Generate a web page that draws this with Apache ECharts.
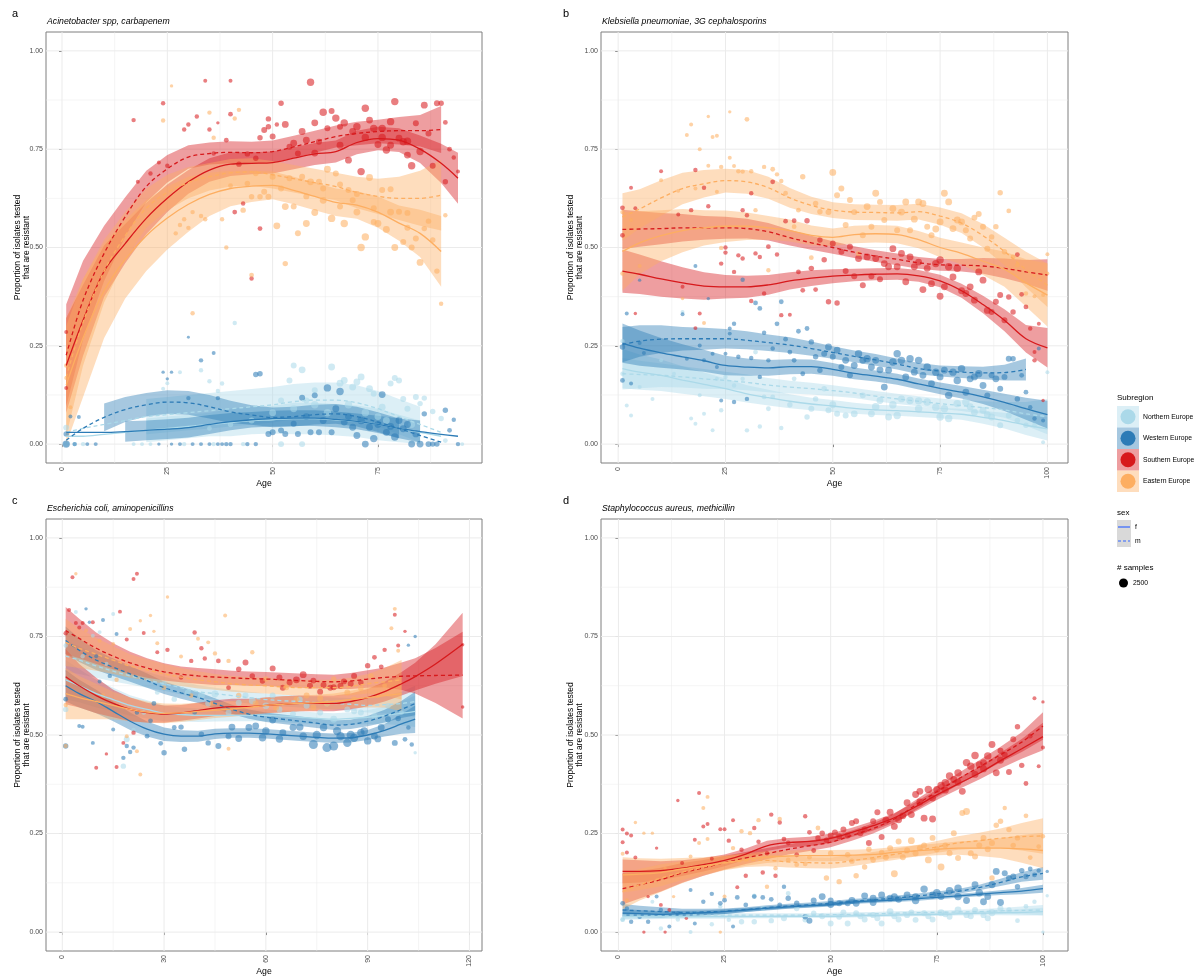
<!DOCTYPE html>
<html><head><meta charset="utf-8">
<script src="https://cdn.jsdelivr.net/npm/echarts@6/dist/echarts.min.js"></script>
<style>html,body{margin:0;padding:0;background:#fff}#c{width:1195px;height:979px}</style>
</head><body><div id="c"></div>
<script>
// ---------------- DATA ----------------
const subregions = ['Northern Europe','Western Europe','Southern Europe','Eastern Europe'];
const panelLetters = ['a','b','c','d'];
const panelTitles = ['Acinetobacter spp, carbapenem','Klebsiella pneumoniae, 3G cephalosporins','Escherichia coli, aminopenicillins','Staphylococcus aureus, methicillin'];
const yTicks = [0,0.25,0.5,0.75,1];
const xTicksA = [0,25,50,75];
const xTicksB = [0,25,50,75,100];
const xTicksC = [0,30,60,90,120];
const xTicksD = [0,25,50,75,100];
const legendSamples = [2500];

// smoothed fits (value at age), half-width of confidence band
const agesA = [1,5,10,15,20,25,30,35,40,45,50,55,60,65,70,75,80,85,90,94];
const a_N_f = [0.02,0.02,0.025,0.03,0.035,0.04,0.045,0.05,0.055,0.06,0.062,0.065,0.065,0.062,0.058,0.05,0.04,0.03,0.02,null];
const a_N_m = [0.03,0.04,0.05,0.06,0.07,0.075,0.08,0.085,0.09,0.095,0.10,0.108,0.112,0.112,0.105,0.09,0.07,0.05,0.03,null];
const a_W_f = [0.03,0.03,0.03,0.032,0.035,0.038,0.042,0.05,0.057,0.062,0.065,0.066,0.066,0.063,0.058,0.05,0.04,0.032,0.025,0.02];
const a_W_m = [0.01,0.04,0.068,0.088,0.1,0.107,0.105,0.095,0.082,0.074,0.068,0.07,0.075,0.077,0.07,0.056,0.04,0.022,0.005,null];
const a_S_f = [0.20,0.315,0.44,0.51,0.574,0.625,0.667,0.697,0.712,0.714,0.716,0.727,0.738,0.744,0.767,0.777,0.773,0.75,0.714,0.676];
const a_S_m = [0.226,0.366,0.485,0.578,0.655,0.70,0.73,0.739,0.742,0.741,0.744,0.756,0.769,0.782,0.79,0.795,0.797,0.797,0.80,null];
const a_E_f = [0.15,0.27,0.39,0.47,0.53,0.575,0.61,0.635,0.65,0.656,0.658,0.645,0.63,0.615,0.608,0.59,0.562,0.536,0.49,null];
const a_E_m = [0.17,0.31,0.44,0.53,0.60,0.64,0.665,0.68,0.69,0.692,0.685,0.675,0.665,0.655,0.64,0.63,0.625,0.625,0.633,null];
const a_N_f_hw = [0.03,0.03,0.03,0.032,0.03,0.03,0.03,0.03,0.035,0.035,0.035,0.04,0.04,0.04,0.04,0.04,0.035,0.03,0.03,null];
const a_N_m_hw = [0.04,0.045,0.055,0.065,0.045,0.045,0.045,0.045,0.045,0.045,0.045,0.045,0.045,0.045,0.045,0.045,0.045,0.045,0.035,null];
const a_W_f_hw = [0.04,0.04,0.032,0.026,0.025,0.025,0.025,0.024,0.022,0.02,0.02,0.02,0.02,0.02,0.02,0.022,0.025,0.028,0.035,0.04];
const a_W_m_hw = [0.04,0.045,0.035,0.032,0.03,0.03,0.03,0.03,0.028,0.025,0.025,0.025,0.025,0.025,0.025,0.025,0.025,0.025,0.03,null];
const a_S_f_hw = [0.12,0.09,0.065,0.05,0.04,0.035,0.03,0.03,0.03,0.028,0.028,0.028,0.028,0.028,0.03,0.03,0.03,0.035,0.05,0.065];
const a_S_m_hw = [0.13,0.1,0.07,0.05,0.04,0.035,0.03,0.028,0.028,0.028,0.028,0.028,0.028,0.028,0.03,0.03,0.035,0.04,0.06,null];
const a_E_f_hw = [0.15,0.15,0.12,0.10,0.09,0.08,0.07,0.055,0.045,0.04,0.035,0.035,0.035,0.035,0.035,0.04,0.045,0.06,0.09,null];
const a_E_m_hw = [0.15,0.11,0.08,0.06,0.05,0.045,0.04,0.035,0.035,0.035,0.035,0.035,0.035,0.035,0.04,0.045,0.055,0.07,0.09,null];

const agesB = [1,5,10,15,20,25,30,35,40,45,50,55,60,65,70,75,80,85,90,95,100];
const b_N_f = [0.192,0.183,0.175,0.163,0.152,0.141,0.128,0.118,0.109,0.102,0.097,0.091,0.087,0.085,0.082,0.079,0.076,0.068,0.06,0.048,0.039];
const b_N_m = [0.179,0.177,0.175,0.171,0.166,0.162,0.157,0.15,0.145,0.141,0.136,0.13,0.122,0.115,0.109,0.103,0.098,0.093,0.087,0.077,0.07];
const b_W_f = [0.257,0.244,0.232,0.222,0.212,0.20,0.196,0.194,0.197,0.197,0.19,0.18,0.173,0.165,0.153,0.142,0.132,0.12,0.106,0.09,0.075];
const b_W_m = [0.253,0.262,0.267,0.268,0.268,0.268,0.264,0.258,0.252,0.243,0.233,0.223,0.214,0.204,0.192,0.186,0.183,0.181,0.182,0.19,null];
const b_S_f = [0.44,0.432,0.42,0.41,0.402,0.40,0.40,0.405,0.415,0.422,0.427,0.43,0.432,0.433,0.428,0.415,0.39,0.355,0.315,0.268,0.245];
const b_S_m = [0.546,0.547,0.548,0.55,0.55,0.55,0.548,0.54,0.525,0.512,0.50,0.488,0.478,0.47,0.461,0.456,0.455,0.453,0.447,0.438,0.43];
const b_E_f = [0.49,0.512,0.53,0.543,0.55,0.554,0.554,0.55,0.543,0.531,0.526,0.533,0.535,0.533,0.52,0.50,0.485,0.465,0.445,0.41,0.379];
const b_E_m = [0.578,0.598,0.626,0.65,0.662,0.67,0.667,0.652,0.626,0.607,0.595,0.59,0.589,0.588,0.591,0.58,0.562,0.53,0.49,0.444,0.404];
const b_N_f_hw = [0.05,0.045,0.04,0.035,0.03,0.026,0.022,0.02,0.018,0.016,0.015,0.014,0.013,0.013,0.013,0.013,0.014,0.016,0.02,0.025,0.03];
const b_N_m_hw = [0.04,0.035,0.03,0.027,0.025,0.022,0.02,0.018,0.016,0.015,0.014,0.013,0.013,0.013,0.013,0.013,0.014,0.016,0.02,0.03,0.045];
const b_W_f_hw = [0.05,0.045,0.038,0.032,0.028,0.025,0.022,0.02,0.019,0.018,0.016,0.015,0.014,0.014,0.014,0.015,0.016,0.018,0.022,0.028,0.035];
const b_W_m_hw = [0.045,0.04,0.035,0.03,0.028,0.025,0.023,0.021,0.02,0.018,0.016,0.015,0.015,0.014,0.014,0.014,0.015,0.016,0.02,0.028,null];
const b_S_f_hw = [0.055,0.05,0.045,0.04,0.035,0.03,0.028,0.025,0.022,0.02,0.018,0.016,0.015,0.015,0.015,0.016,0.018,0.022,0.028,0.035,0.05];
const b_S_m_hw = [0.05,0.045,0.04,0.035,0.03,0.028,0.025,0.022,0.02,0.018,0.016,0.015,0.015,0.015,0.015,0.015,0.016,0.02,0.025,0.03,0.04];
const b_E_f_hw = [0.1,0.08,0.065,0.055,0.045,0.04,0.035,0.03,0.028,0.025,0.022,0.022,0.022,0.022,0.022,0.025,0.028,0.035,0.045,0.06,0.08];
const b_E_m_hw = [0.06,0.05,0.045,0.04,0.035,0.03,0.03,0.028,0.025,0.022,0.02,0.02,0.02,0.02,0.02,0.022,0.025,0.03,0.035,0.045,0.055];

const agesC = [1,5,10,15,20,25,30,35,40,45,50,55,60,65,70,75,80,85,90,95,100,104,110,118];
const c_N_f = [0.64,0.625,0.605,0.59,0.575,0.565,0.555,0.552,0.55,0.55,0.55,0.55,0.55,0.548,0.545,0.542,0.54,0.542,0.545,0.55,0.555,0.56,null,null];
const c_N_m = [0.70,0.69,0.675,0.662,0.65,0.64,0.63,0.62,0.61,0.605,0.60,0.595,0.59,0.587,0.585,0.582,0.58,0.578,0.575,0.577,0.58,0.585,null,null];
const c_W_f = [0.625,0.605,0.585,0.56,0.535,0.515,0.502,0.497,0.497,0.503,0.505,0.505,0.503,0.50,0.497,0.494,0.492,0.493,0.50,0.512,0.528,0.54,null,null];
const c_W_m = [0.74,0.715,0.69,0.672,0.655,0.638,0.62,0.607,0.595,0.58,0.565,0.553,0.545,0.54,0.535,0.53,0.525,0.527,0.535,0.548,0.565,0.58,null,null];
const c_S_f = [0.648,0.625,0.60,0.58,0.565,0.557,0.553,0.556,0.562,0.568,0.572,0.572,0.575,0.578,0.58,0.58,0.58,0.585,0.595,0.61,0.63,0.648,0.68,0.73];
const c_S_m = [0.765,0.745,0.72,0.70,0.683,0.67,0.66,0.654,0.65,0.647,0.645,0.643,0.642,0.64,0.638,0.636,0.635,0.637,0.642,0.646,0.649,0.65,0.651,0.652];
const c_E_f = [0.605,0.595,0.585,0.575,0.565,0.558,0.555,0.556,0.56,0.563,0.566,0.57,0.575,0.578,0.58,0.582,0.585,0.59,0.595,0.60,0.605,null,null,null];
const c_E_m = [0.735,0.72,0.705,0.69,0.675,0.665,0.655,0.647,0.64,0.635,0.63,0.627,0.625,0.622,0.62,0.62,0.62,0.623,0.63,0.635,0.64,null,null,null];
const c_N_f_hw = [0.05,0.042,0.035,0.03,0.026,0.023,0.02,0.018,0.017,0.016,0.015,0.015,0.015,0.015,0.015,0.015,0.015,0.016,0.018,0.022,0.03,0.04,null,null];
const c_N_m_hw = [0.04,0.035,0.03,0.026,0.022,0.02,0.018,0.017,0.016,0.015,0.015,0.015,0.015,0.015,0.015,0.015,0.015,0.016,0.018,0.022,0.03,0.04,null,null];
const c_W_f_hw = [0.04,0.035,0.03,0.025,0.022,0.019,0.017,0.015,0.014,0.013,0.012,0.012,0.012,0.012,0.012,0.012,0.012,0.012,0.013,0.016,0.025,0.035,null,null];
const c_W_m_hw = [0.035,0.03,0.025,0.022,0.02,0.018,0.016,0.015,0.014,0.013,0.012,0.012,0.012,0.012,0.012,0.012,0.012,0.012,0.013,0.016,0.022,0.03,null,null];
const c_S_f_hw = [0.07,0.055,0.045,0.035,0.03,0.025,0.022,0.02,0.02,0.02,0.02,0.02,0.02,0.02,0.02,0.02,0.02,0.02,0.022,0.025,0.03,0.035,0.05,0.08];
const c_S_m_hw = [0.06,0.05,0.04,0.033,0.028,0.025,0.022,0.02,0.02,0.02,0.018,0.018,0.018,0.018,0.018,0.018,0.018,0.02,0.022,0.025,0.035,0.045,0.07,0.11];
const c_E_f_hw = [0.065,0.055,0.045,0.035,0.03,0.027,0.025,0.023,0.022,0.02,0.02,0.02,0.02,0.02,0.02,0.02,0.02,0.022,0.025,0.03,0.045,null,null,null];
const c_E_m_hw = [0.06,0.05,0.042,0.035,0.03,0.027,0.025,0.023,0.022,0.02,0.02,0.02,0.02,0.02,0.02,0.02,0.02,0.022,0.025,0.035,0.05,null,null,null];

const agesD = [1,5,10,15,20,25,30,35,40,45,50,55,60,65,70,75,80,85,90,95,100];
const d_N_f = [0.039,0.039,0.039,0.039,0.039,0.039,0.039,0.039,0.04,0.04,0.04,0.041,0.042,0.043,0.044,0.045,0.046,0.048,0.049,0.05,0.052];
const d_N_m = [0.043,0.043,0.043,0.043,0.043,0.043,0.043,0.043,0.043,0.043,0.044,0.045,0.046,0.048,0.049,0.05,0.051,0.052,0.054,0.055,0.056];
const d_W_f = [0.048,0.047,0.045,0.047,0.049,0.052,0.056,0.06,0.064,0.067,0.07,0.076,0.079,0.081,0.084,0.088,0.092,0.096,0.1,0.104,0.11];
const d_W_m = [0.056,0.054,0.052,0.05,0.051,0.053,0.057,0.062,0.066,0.069,0.073,0.078,0.082,0.086,0.091,0.097,0.103,0.113,0.126,0.14,0.149];
const d_S_f = [0.154,0.154,0.156,0.162,0.171,0.182,0.198,0.219,0.227,0.23,0.238,0.253,0.27,0.29,0.318,0.348,0.376,0.403,0.435,0.465,0.496];
const d_S_m = [0.11,0.12,0.133,0.15,0.163,0.176,0.188,0.199,0.21,0.219,0.228,0.245,0.263,0.287,0.322,0.356,0.388,0.419,0.45,0.482,0.523];
const d_E_f = [0.145,0.147,0.151,0.16,0.168,0.176,0.184,0.19,0.193,0.194,0.194,0.195,0.197,0.202,0.206,0.21,0.213,0.213,0.213,0.211,0.207];
const d_E_m = [0.103,0.12,0.137,0.152,0.165,0.175,0.181,0.182,0.178,0.176,0.175,0.181,0.189,0.197,0.206,0.216,0.226,0.232,0.238,0.242,0.244];
const d_N_f_hw = [0.008,0.007,0.006,0.005,0.005,0.005,0.004,0.004,0.004,0.004,0.004,0.004,0.004,0.004,0.004,0.004,0.004,0.005,0.006,0.008,0.01];
const d_N_m_hw = [0.01,0.009,0.008,0.007,0.006,0.006,0.005,0.005,0.005,0.005,0.005,0.005,0.005,0.005,0.005,0.005,0.005,0.006,0.007,0.01,0.013];
const d_W_f_hw = [0.01,0.009,0.008,0.007,0.006,0.006,0.005,0.005,0.005,0.005,0.005,0.005,0.005,0.005,0.005,0.005,0.005,0.005,0.006,0.008,0.01];
const d_W_m_hw = [0.015,0.013,0.011,0.009,0.008,0.007,0.006,0.006,0.006,0.006,0.006,0.006,0.006,0.006,0.006,0.006,0.006,0.007,0.009,0.012,0.016];
const d_S_f_hw = [0.03,0.028,0.024,0.02,0.017,0.015,0.014,0.013,0.012,0.012,0.012,0.012,0.012,0.012,0.012,0.013,0.014,0.016,0.02,0.025,0.035];
const d_S_m_hw = [0.04,0.035,0.03,0.025,0.02,0.017,0.015,0.014,0.013,0.013,0.013,0.013,0.013,0.013,0.013,0.014,0.015,0.017,0.02,0.025,0.035];
const d_E_f_hw = [0.045,0.04,0.035,0.028,0.022,0.018,0.016,0.015,0.014,0.014,0.014,0.014,0.014,0.014,0.014,0.015,0.017,0.02,0.025,0.035,0.045];
const d_E_m_hw = [0.045,0.04,0.035,0.028,0.022,0.018,0.016,0.015,0.014,0.014,0.014,0.014,0.014,0.014,0.014,0.015,0.017,0.02,0.025,0.035,0.045];

// observed points: [age, proportion resistant, # samples]
const pA_N = [[1,0.042,800],[1,0,800],[3,0,300],[5,0,300],[17,0,200],[19,0,200],[21,0,200],[24,0.141,200],[25,0.155,200],[28,0.183,200],[29,0,300],[33,0.188,300],[35,0.16,300],[36,0,300],[37,0.135,300],[38,0.154,300],[41,0.308,300],[43,0,300],[52,0.111,800],[52,0,800],[54,0.162,800],[55,0.20,800],[57,0.189,1200],[57,0,800],[58,0.111,800],[60,0.137,800],[64,0.196,1200],[66,0.155,1200],[67,0.162,1200],[69,0.145,1200],[70,0.158,1200],[71,0.171,1200],[73,0.141,1200],[74,0.128,800],[76,0.094,1200],[78,0.154,800],[79,0.168,800],[80,0.162,800],[81,0.115,800],[82,0.09,800],[84,0.12,800],[85,0.103,600],[86,0.117,600],[88,0.083,600],[90,0.065,600],[91,0.009,400],[95,0,200],[50,0.08,1200],[55,0.09,1200],[60,0.1,1500],[63,0.08,1500],[68,0.1,1500],[72,0.08,1500],[75,0.07,1200],[77,0.06,1200],[83,0.05,1200],[45,0.06,800],[40,0.05,600],[35,0.04,400]];
const pA_W = [[1,0,1500],[1,0.026,600],[2,0.07,200],[4,0.069,200],[3,0,300],[6,0,200],[8,0,200],[24,0.183,100],[25,0.166,100],[26,0.183,100],[30,0.272,50],[30,0.117,300],[33,0.213,300],[36,0.232,200],[37,0.117,300],[46,0.177,600],[47,0.179,600],[49,0.026,800],[50,0.03,800],[52,0.035,800],[53,0.026,800],[55,0.052,800],[56,0.026,800],[57,0.118,800],[59,0.03,800],[60,0.124,800],[61,0.03,800],[63,0.143,1500],[64,0.03,800],[66,0.134,1500],[67,0.056,1200],[69,0.043,1200],[70,0.022,1200],[72,0,1200],[73,0.043,1200],[74,0.014,1500],[76,0.126,1200],[77,0.03,1200],[79,0.018,1500],[81,0.039,1200],[83,0,1200],[84,0.026,1200],[85,0,1200],[86,0.077,600],[87,0,800],[88,0,600],[89,0,600],[91,0.086,600],[92,0.035,400],[93,0.062,300],[94,0,300],[23,0,100],[26,0,100],[28,0,200],[31,0,200],[33,0,200],[35,0,200],[37,0,200],[38,0,200],[39,0,300],[40,0,300],[44,0,300],[46,0,300],[58,0.07,1200],[62,0.06,1200],[65,0.09,1200],[68,0.07,1200],[71,0.06,1500],[75,0.05,1200],[78,0.045,1200],[80,0.06,1200],[82,0.05,1200]];
const pA_S = [[1,0.143,200],[1,0.285,200],[17,0.824,300],[18,0.667,200],[21,0.688,300],[23,0.716,200],[24,0.867,300],[25,0.708,300],[29,0.80,300],[30,0.813,300],[32,0.833,300],[34,0.924,200],[35,0.80,300],[36,0.739,300],[37,0.817,100],[39,0.773,400],[40,0.924,200],[40,0.839,400],[41,0.59,400],[42,0.712,600],[43,0.612,300],[44,0.738,600],[45,0.421,300],[46,0.727,600],[47,0.548,400],[47,0.779,600],[48,0.799,800],[49,0.827,600],[49,0.807,600],[50,0.782,800],[51,0.813,300],[52,0.867,600],[53,0.813,1200],[54,0.756,800],[55,0.765,1200],[56,0.739,800],[57,0.795,1200],[58,0.773,1200],[59,0.92,1500],[60,0.817,1200],[61,0.769,800],[62,0.844,1500],[63,0.803,800],[64,0.847,800],[65,0.829,1500],[66,0.807,800],[67,0.817,1500],[68,0.722,1200],[69,0.795,1200],[70,0.807,1500],[71,0.693,1500],[72,0.854,1500],[73,0.824,1200],[74,0.803,1500],[75,0.762,1200],[76,0.803,1500],[77,0.748,1500],[78,0.82,1500],[79,0.871,1500],[80,0.778,1200],[81,0.769,1500],[82,0.735,1200],[83,0.708,1500],[84,0.816,800],[85,0.744,1500],[86,0.862,1200],[87,0.79,800],[88,0.708,800],[89,0.867,800],[90,0.867,600],[91,0.667,600],[91,0.818,400],[92,0.75,400],[93,0.729,300],[94,0.693,200],[60,0.74,1200],[66,0.76,1200],[72,0.78,1500],[76,0.78,1500],[78,0.76,1200],[82,0.77,1500]];
const pA_E = [[1,0.20,300],[1,0.168,200],[2,0.094,200],[24,0.823,300],[26,0.911,100],[27,0.536,300],[28,0.557,300],[29,0.572,300],[30,0.55,300],[31,0.333,300],[31,0.59,300],[33,0.58,300],[34,0.572,300],[35,0.843,300],[36,0.779,300],[38,0.572,300],[39,0.50,300],[40,0.657,400],[41,0.828,300],[42,0.85,300],[43,0.595,600],[44,0.663,600],[45,0.43,400],[45,0.629,600],[46,0.688,600],[47,0.629,600],[48,0.642,800],[49,0.629,800],[50,0.68,800],[51,0.555,1200],[53,0.604,1200],[53,0.459,600],[54,0.676,800],[55,0.604,800],[56,0.536,800],[57,0.68,800],[58,0.561,1200],[59,0.667,1200],[60,0.589,1200],[61,0.667,800],[62,0.65,800],[63,0.699,1200],[64,0.574,1500],[65,0.688,800],[66,0.604,800],[67,0.561,1500],[68,0.646,800],[69,0.62,800],[70,0.636,800],[71,0.50,1500],[72,0.527,1500],[73,0.678,1200],[74,0.565,800],[75,0.561,1200],[76,0.646,800],[77,0.546,1200],[78,0.648,800],[79,0.50,1200],[80,0.591,800],[81,0.514,800],[82,0.588,800],[83,0.50,800],[84,0.523,800],[85,0.462,1200],[86,0.548,600],[87,0.567,600],[88,0.519,600],[89,0.44,600],[90,0.357,300],[91,0.582,300],[52,0.65,800],[58,0.63,800],[62,0.62,1200],[66,0.66,800],[70,0.59,1200],[74,0.60,800],[78,0.59,1200],[82,0.55,800]];

const pB_N = [[1,0.262,300],[1,0.179,300],[2,0.098,200],[3,0.073,200],[5,0.145,200],[8,0.115,200],[10,0.213,200],[13,0.179,200],[15,0.336,200],[17,0.065,200],[18,0.052,200],[19,0.124,200],[20,0.077,200],[22,0.035,200],[23,0.166,200],[24,0.086,300],[25,0.171,300],[27,0.149,300],[29,0.166,300],[30,0.035,300],[32,0.234,400],[33,0.045,300],[34,0.12,400],[35,0.09,400],[38,0.041,300],[41,0.166,400],[44,0.069,600],[46,0.115,600],[48,0.141,600],[49,0.086,800],[51,0.077,800],[53,0.073,800],[55,0.077,1200],[57,0.124,800],[59,0.077,1200],[61,0.111,1200],[63,0.069,1200],[65,0.073,1500],[66,0.115,1200],[68,0.111,1500],[70,0.09,1500],[72,0.107,1500],[74,0.094,1500],[75,0.069,1500],[77,0.065,1500],[79,0.103,1500],[81,0.107,1500],[83,0.081,1200],[85,0.086,1200],[87,0.069,1200],[89,0.048,800],[91,0.073,800],[93,0.06,600],[95,0.048,600],[97,0.048,400],[99,0.005,200],[100,0.183,200],[60,0.095,1500],[64,0.1,1500],[70,0.11,1500],[76,0.09,1500],[82,0.095,1200],[86,0.075,1200],[50,0.1,1200],[45,0.09,800],[40,0.1,600],[36,0.12,400]];
const pB_W = [[1,0.247,600],[1,0.162,400],[2,0.332,200],[3,0.154,200],[5,0.417,100],[5,0.257,200],[6,0.232,200],[15,0.33,200],[16,0.217,200],[18,0.453,200],[19,0.251,200],[20,0.213,200],[21,0.37,100],[22,0.23,200],[23,0.196,200],[24,0.111,200],[25,0.23,200],[26,0.281,200],[26,0.294,200],[27,0.306,300],[27,0.107,300],[28,0.222,300],[29,0.418,300],[30,0.115,300],[31,0.219,300],[32,0.359,400],[33,0.345,400],[33,0.171,300],[34,0.283,300],[35,0.213,300],[36,0.243,300],[37,0.306,400],[38,0.362,400],[39,0.267,400],[40,0.234,400],[41,0.213,400],[42,0.287,400],[43,0.179,400],[44,0.294,400],[45,0.26,600],[46,0.222,600],[47,0.188,600],[48,0.23,800],[49,0.247,1200],[50,0.222,800],[51,0.239,1200],[52,0.196,800],[53,0.213,1200],[54,0.175,800],[55,0.20,1200],[56,0.23,1500],[57,0.213,1200],[58,0.217,1500],[59,0.196,1200],[60,0.213,1200],[61,0.189,1200],[62,0.145,1200],[63,0.188,1200],[64,0.209,1500],[65,0.23,1500],[66,0.213,1500],[67,0.171,1200],[68,0.217,1500],[69,0.183,1200],[70,0.213,1500],[71,0.175,1200],[72,0.196,1500],[73,0.154,1200],[74,0.183,1500],[75,0.171,1200],[76,0.188,1200],[77,0.124,1500],[78,0.183,1500],[79,0.162,1500],[80,0.192,1500],[81,0.132,1200],[82,0.166,1200],[83,0.171,1200],[84,0.179,1500],[85,0.149,1200],[86,0.124,800],[87,0.175,800],[88,0.166,1200],[89,0.141,800],[90,0.171,800],[91,0.217,800],[92,0.217,600],[93,0.115,600],[94,0.175,400],[95,0.132,400],[96,0.094,300],[97,0.065,300],[98,0.243,200],[99,0.06,200]];
const pB_S = [[1,0.601,400],[1,0.531,400],[3,0.652,200],[4,0.60,200],[4,0.332,100],[10,0.694,200],[14,0.584,200],[15,0.40,200],[17,0.595,300],[18,0.697,300],[18,0.295,200],[19,0.332,200],[20,0.652,300],[21,0.605,300],[24,0.459,300],[25,0.50,300],[25,0.487,300],[27,0.438,300],[28,0.48,300],[29,0.595,300],[29,0.472,300],[30,0.582,300],[31,0.638,300],[31,0.364,300],[32,0.485,300],[33,0.476,300],[34,0.383,300],[35,0.502,400],[36,0.667,400],[37,0.482,300],[38,0.328,300],[39,0.567,400],[40,0.329,200],[41,0.568,400],[42,0.438,400],[43,0.391,400],[44,0.568,600],[45,0.447,600],[46,0.393,400],[47,0.519,600],[48,0.469,600],[49,0.362,600],[50,0.51,800],[51,0.359,600],[52,0.489,800],[53,0.44,800],[54,0.502,800],[55,0.427,800],[56,0.472,1200],[57,0.404,800],[58,0.476,1200],[59,0.427,800],[60,0.472,1200],[61,0.419,800],[62,0.459,1200],[63,0.451,1200],[64,0.497,1200],[65,0.451,1200],[66,0.485,1200],[67,0.413,1200],[68,0.476,1200],[69,0.451,1200],[70,0.463,1200],[71,0.393,1200],[72,0.447,1200],[73,0.408,1200],[74,0.459,1500],[75,0.468,1500],[75,0.376,1200],[76,0.40,1200],[77,0.451,1500],[78,0.425,1200],[79,0.447,1500],[80,0.39,1200],[81,0.383,1200],[82,0.40,1200],[83,0.366,1200],[84,0.438,1200],[85,0.417,1200],[86,0.34,1200],[87,0.336,800],[88,0.362,800],[89,0.379,800],[90,0.315,800],[91,0.374,600],[92,0.336,600],[93,0.482,400],[94,0.381,400],[95,0.349,400],[96,0.294,300],[97,0.213,300],[97,0.234,200],[98,0.306,200],[99,0.111,100]];
const pB_E = [[1,0.59,300],[1,0.434,300],[3,0.57,200],[5,0.453,200],[10,0.671,200],[14,0.644,200],[15,0.37,100],[16,0.786,200],[17,0.813,200],[18,0.65,200],[19,0.75,200],[20,0.308,200],[21,0.833,100],[21,0.708,200],[22,0.781,200],[23,0.784,200],[23,0.642,200],[24,0.705,300],[24,0.499,300],[26,0.845,100],[26,0.728,200],[27,0.707,200],[28,0.694,300],[29,0.693,300],[30,0.826,400],[31,0.694,300],[32,0.595,300],[34,0.705,300],[35,0.442,300],[36,0.699,400],[37,0.686,300],[38,0.669,300],[39,0.638,400],[41,0.553,400],[42,0.595,400],[43,0.68,600],[45,0.474,400],[46,0.612,600],[47,0.591,600],[49,0.59,800],[50,0.691,1200],[51,0.633,800],[52,0.65,800],[53,0.557,800],[54,0.621,800],[55,0.59,800],[56,0.485,600],[57,0.531,800],[58,0.604,1200],[59,0.553,800],[60,0.638,1200],[61,0.616,800],[62,0.57,800],[64,0.599,1200],[65,0.544,800],[66,0.59,1200],[67,0.616,1200],[68,0.544,800],[69,0.572,1200],[70,0.616,1200],[71,0.612,1200],[72,0.553,800],[73,0.531,800],[74,0.547,1200],[75,0.565,1200],[76,0.638,1200],[77,0.616,1200],[78,0.548,1200],[79,0.57,1200],[80,0.565,1200],[81,0.544,800],[82,0.523,800],[83,0.576,800],[84,0.585,800],[85,0.553,800],[86,0.497,800],[87,0.527,600],[88,0.553,600],[89,0.639,600],[90,0.489,600],[91,0.593,400],[92,0.476,400],[93,0.455,400],[95,0.383,300],[97,0.376,200],[99,0.379,200],[100,0.434,200],[100,0.483,200]];

const pC_N = [[1,0.565,600],[1,0.727,300],[4,0.812,200],[9,0.752,200],[11,0.761,200],[15,0.807,200],[18,0.421,600],[19,0.489,800],[21,0.513,300],[24,0.557,400],[28,0.608,400],[33,0.591,600],[37,0.608,800],[41,0.60,1200],[45,0.604,1200],[49,0.557,800],[52,0.582,800],[56,0.587,1200],[60,0.574,1200],[64,0.565,800],[68,0.553,800],[72,0.574,800],[76,0.557,800],[80,0.54,1200],[84,0.565,800],[88,0.557,800],[92,0.548,800],[96,0.574,600],[100,0.557,400],[104,0.455,100],[30,0.63,600],[43,0.58,800],[54,0.6,800],[62,0.6,800],[70,0.59,800],[78,0.58,800],[86,0.56,800],[6,0.7,300],[13,0.68,300]];
const pC_W = [[1,0.472,600],[1,0.591,400],[5,0.523,200],[6,0.521,200],[7,0.82,100],[8,0.786,100],[9,0.48,200],[11,0.636,200],[12,0.792,200],[15,0.514,200],[16,0.756,200],[18,0.442,300],[19,0.472,300],[20,0.457,300],[21,0.468,300],[22,0.557,300],[25,0.497,400],[26,0.536,400],[29,0.479,400],[30,0.455,600],[33,0.519,400],[36,0.464,600],[39,0.557,400],[41,0.502,600],[43,0.48,600],[46,0.472,800],[49,0.497,800],[52,0.491,1200],[55,0.519,1200],[57,0.523,1200],[59,0.493,1500],[62,0.538,1200],[65,0.506,1200],[68,0.519,1200],[71,0.497,1500],[74,0.476,2500],[77,0.519,1500],[78,0.468,2500],[80,0.472,2500],[82,0.497,2000],[84,0.48,2000],[86,0.493,2000],[88,0.506,1500],[90,0.485,1500],[92,0.497,1200],[94,0.519,1200],[96,0.54,800],[98,0.48,800],[99,0.542,600],[101,0.489,400],[102,0.519,300],[102,0.728,100],[103,0.476,300],[104,0.75,100],[50,0.52,1200],[60,0.51,1500],[64,0.49,1500],[70,0.52,1500],[75,0.5,2000],[81,0.51,2000],[85,0.5,2000],[89,0.51,1500],[93,0.49,1200],[35,0.52,600],[27,0.58,400],[14,0.65,300],[10,0.7,200]];
const pC_S = [[1,0.758,300],[2,0.817,200],[3,0.90,200],[4,0.784,200],[5,0.773,200],[6,0.784,200],[9,0.786,200],[10,0.417,200],[13,0.452,100],[16,0.419,200],[17,0.813,200],[18,0.48,200],[19,0.742,200],[21,0.896,200],[22,0.909,200],[21,0.506,300],[24,0.759,200],[28,0.71,200],[31,0.716,300],[35,0.646,300],[38,0.688,300],[39,0.76,300],[41,0.72,300],[42,0.694,300],[46,0.688,400],[49,0.62,400],[52,0.667,600],[54,0.684,800],[56,0.65,600],[59,0.637,600],[62,0.669,800],[64,0.646,800],[67,0.633,800],[71,0.653,1200],[74,0.638,800],[77,0.627,800],[80,0.621,800],[83,0.636,800],[86,0.65,800],[88,0.633,600],[90,0.676,600],[92,0.697,400],[94,0.673,400],[95,0.716,300],[98,0.805,200],[99,0.727,200],[101,0.763,100],[118,0.729,100],[118,0.571,100],[65,0.62,800],[69,0.64,1200],[73,0.625,800],[76,0.61,800],[79,0.62,800],[82,0.625,800],[85,0.63,800]];
const pC_E = [[1,0.472,300],[1,0.576,300],[4,0.909,100],[7,0.765,200],[11,0.739,200],[15,0.731,200],[19,0.497,200],[20,0.769,200],[22,0.459,200],[23,0.40,200],[23,0.79,100],[26,0.803,100],[27,0.763,100],[28,0.733,200],[31,0.85,100],[35,0.699,200],[40,0.744,200],[43,0.735,200],[45,0.707,300],[48,0.803,200],[49,0.688,300],[49,0.465,200],[56,0.71,300],[60,0.642,600],[66,0.621,800],[72,0.60,800],[76,0.593,800],[80,0.642,600],[84,0.608,800],[88,0.618,600],[91,0.65,600],[95,0.625,400],[97,0.771,200],[98,0.82,200],[99,0.714,200],[52,0.6,600],[57,0.58,800],[63,0.57,800],[69,0.59,800],[74,0.57,800],[78,0.58,800],[86,0.59,800],[93,0.6,600],[30,0.62,400],[38,0.6,400],[44,0.58,400],[12,0.6,300],[16,0.64,300]];

const pD_N = [[1,0.032,400],[1,0.031,300],[5,0.039,300],[8,0.077,200],[10,0.009,300],[14,0.032,300],[17,0,200],[18,0.048,300],[22,0.02,300],[24,0.065,300],[26,0.031,300],[29,0.026,600],[32,0.092,300],[32,0.026,600],[34,0.06,400],[36,0.029,600],[39,0.035,800],[40,0.098,400],[42,0.06,600],[44,0.031,600],[46,0.048,600],[50,0.022,800],[52,0.039,800],[54,0.022,800],[56,0.048,800],[58,0.032,800],[60,0.043,800],[62,0.022,800],[64,0.052,1200],[66,0.032,800],[68,0.043,800],[70,0.031,800],[72,0.048,800],[74,0.032,800],[76,0.049,1200],[78,0.039,800],[80,0.056,1200],[82,0.043,800],[84,0.056,800],[86,0.043,800],[88,0.049,1200],[90,0.06,800],[92,0.056,600],[94,0.029,400],[96,0.065,400],[98,0.077,300],[100,0,100],[101,0.092,100],[48,0.04,800],[53,0.05,800],[57,0.04,800],[61,0.035,800],[65,0.04,800],[69,0.05,800],[73,0.04,800],[77,0.045,800],[83,0.04,800],[87,0.035,800]];
const pD_W = [[1,0.073,400],[2,0.06,300],[3,0.026,300],[5,0.039,300],[7,0.026,300],[9,0.09,200],[10,0.056,300],[12,0.014,200],[14,0.048,300],[17,0.107,200],[18,0.022,200],[20,0.077,300],[22,0.097,300],[24,0.073,400],[25,0.081,400],[27,0.014,200],[28,0.088,400],[30,0.069,400],[32,0.09,400],[34,0.088,400],[36,0.083,400],[38,0.069,400],[39,0.115,300],[40,0.086,600],[42,0.073,600],[44,0.039,600],[45,0.029,800],[46,0.08,800],[48,0.09,1200],[50,0.08,800],[52,0.073,800],[54,0.073,800],[56,0.073,1200],[58,0.092,1200],[60,0.086,1200],[62,0.094,1200],[64,0.086,1200],[66,0.083,1200],[68,0.094,1200],[70,0.09,1200],[72,0.109,1500],[74,0.094,1200],[76,0.09,1200],[78,0.105,1500],[80,0.111,1500],[82,0.08,1200],[84,0.12,1200],[86,0.077,1200],[88,0.12,1200],[89,0.154,1200],[90,0.075,1200],[91,0.149,800],[92,0.137,800],[93,0.141,800],[94,0.115,600],[95,0.156,600],[96,0.141,600],[97,0.16,400],[98,0.145,400],[99,0.156,300],[101,0.154,100],[50,0.07,1200],[55,0.08,1200],[60,0.075,1200],[65,0.09,1200],[70,0.08,1500],[75,0.1,1500],[80,0.09,1500],[85,0.1,1500],[87,0.09,1200]];
const pD_S = [[1,0.26,200],[1,0.228,200],[2,0.25,200],[3,0.245,200],[2,0.202,200],[4,0.189,200],[6,0,100],[7,0.09,100],[9,0.213,100],[10,0.069,200],[11,0,100],[12,0.056,200],[14,0.334,100],[15,0.175,200],[16,0.035,100],[18,0.234,200],[19,0.353,200],[20,0.268,200],[21,0.274,200],[22,0.186,200],[24,0.261,200],[25,0.261,200],[26,0.232,300],[27,0.284,200],[28,0.114,200],[29,0.209,300],[30,0.143,300],[32,0.264,300],[33,0.229,300],[34,0.151,300],[35,0.20,300],[36,0.298,300],[37,0.143,300],[38,0.278,300],[39,0.236,400],[40,0.226,400],[42,0.196,400],[44,0.294,300],[45,0.253,400],[46,0.207,400],[47,0.239,600],[48,0.251,600],[49,0.233,600],[50,0.245,800],[51,0.253,800],[52,0.243,800],[53,0.26,800],[54,0.245,800],[55,0.277,800],[56,0.281,800],[57,0.251,800],[58,0.26,800],[59,0.226,800],[60,0.281,800],[61,0.304,800],[62,0.241,800],[63,0.284,1200],[64,0.304,1200],[65,0.268,1200],[66,0.285,1200],[67,0.295,1200],[68,0.328,1200],[69,0.298,1200],[70,0.349,1200],[71,0.357,1200],[72,0.289,1200],[73,0.362,1500],[74,0.287,1200],[75,0.362,1200],[76,0.372,1500],[77,0.379,1500],[78,0.396,1500],[79,0.387,1200],[80,0.404,1500],[81,0.357,1200],[82,0.43,1500],[83,0.421,1500],[84,0.448,1500],[85,0.425,1200],[86,0.414,1200],[87,0.447,1500],[88,0.476,1200],[89,0.404,1200],[90,0.436,1200],[92,0.406,800],[93,0.489,800],[94,0.521,600],[95,0.423,600],[96,0.377,400],[97,0.497,400],[98,0.593,200],[99,0.421,200],[100,0.468,200],[100,0.584,100],[71,0.33,1200],[74,0.34,1200],[77,0.36,1200],[80,0.38,1200],[84,0.4,1200],[86,0.43,1200],[90,0.46,800],[91,0.45,800]];
const pD_E = [[1,0.199,200],[2,0.081,200],[4,0.278,100],[6,0.251,100],[8,0.251,100],[11,0.162,100],[13,0.09,100],[17,0.192,200],[19,0.226,200],[20,0.315,200],[21,0.343,200],[21,0.236,200],[24,0,100],[25,0.09,200],[27,0.213,300],[29,0.256,300],[31,0.251,300],[33,0.284,300],[35,0.115,300],[37,0.162,300],[38,0.287,300],[40,0.183,400],[42,0.171,400],[44,0.173,400],[47,0.264,400],[49,0.137,600],[52,0.128,600],[54,0.196,600],[56,0.143,600],[58,0.165,600],[60,0.183,600],[62,0.202,600],[64,0.213,800],[65,0.148,1200],[66,0.23,800],[68,0.207,800],[69,0.232,1200],[71,0.213,800],[73,0.183,1200],[74,0.239,800],[76,0.165,1200],[78,0.20,800],[79,0.251,800],[80,0.188,800],[81,0.302,800],[82,0.306,1200],[84,0.192,800],[86,0.239,800],[88,0.226,800],[88,0.137,600],[89,0.271,600],[90,0.281,600],[91,0.315,300],[92,0.26,600],[94,0.239,600],[96,0.295,400],[97,0.189,400],[99,0.217,400],[100,0.243,300],[45,0.19,400],[50,0.2,600],[55,0.18,600],[59,0.21,600],[63,0.19,800],[67,0.19,800],[70,0.2,800],[72,0.22,800],[75,0.21,800],[77,0.22,800],[83,0.2,800],[85,0.22,800],[87,0.21,800],[93,0.22,600]];

// ---------------- ASSEMBLY ----------------
const colors = ['#abd9e9','#2c7bb6','#d7191c','#fdae61'];
const FONT = '"Liberation Sans", Arial, sans-serif';
function rgba(hex,a){const n=parseInt(hex.slice(1),16);return 'rgba('+(n>>16&255)+','+(n>>8&255)+','+(n&255)+','+a+')';}

const panels = [
  {ages:agesA, xTicks:xTicksA, fits:[[a_N_f,a_N_m],[a_W_f,a_W_m],[a_S_f,a_S_m],[a_E_f,a_E_m]], hws:[[a_N_f_hw,a_N_m_hw],[a_W_f_hw,a_W_m_hw],[a_S_f_hw,a_S_m_hw],[a_E_f_hw,a_E_m_hw]], pts:[pA_N,pA_W,pA_S,pA_E]},
  {ages:agesB, xTicks:xTicksB, fits:[[b_N_f,b_N_m],[b_W_f,b_W_m],[b_S_f,b_S_m],[b_E_f,b_E_m]], hws:[[b_N_f_hw,b_N_m_hw],[b_W_f_hw,b_W_m_hw],[b_S_f_hw,b_S_m_hw],[b_E_f_hw,b_E_m_hw]], pts:[pB_N,pB_W,pB_S,pB_E]},
  {ages:agesC, xTicks:xTicksC, fits:[[c_N_f,c_N_m],[c_W_f,c_W_m],[c_S_f,c_S_m],[c_E_f,c_E_m]], hws:[[c_N_f_hw,c_N_m_hw],[c_W_f_hw,c_W_m_hw],[c_S_f_hw,c_S_m_hw],[c_E_f_hw,c_E_m_hw]], pts:[pC_N,pC_W,pC_S,pC_E]},
  {ages:agesD, xTicks:xTicksD, fits:[[d_N_f,d_N_m],[d_W_f,d_W_m],[d_S_f,d_S_m],[d_E_f,d_E_m]], hws:[[d_N_f_hw,d_N_m_hw],[d_W_f_hw,d_W_m_hw],[d_S_f_hw,d_S_m_hw],[d_E_f_hw,d_E_m_hw]], pts:[pD_N,pD_W,pD_S,pD_E]}
];
// layout (pixels) and axis extents
const layout = [
  {left:46, top:32, width:436, height:431, xmin:-3.8, xmax:99.7},
  {left:601, top:32, width:467, height:431, xmin:-4.0, xmax:104.8},
  {left:46, top:519, width:436, height:432, xmin:-4.8, xmax:123.7},
  {left:601, top:519, width:467, height:432, xmin:-4.1, xmax:105.9}
];
const YMIN=-0.048, YMAX=1.048;

const grids=[], xAxes=[], yAxes=[], series=[], graphics=[];
panels.forEach((p,i)=>{
  const L=layout[i];
  grids.push({left:L.left, top:L.top, width:L.width, height:L.height, show:true, borderColor:'#7f7f7f', borderWidth:1, backgroundColor:'#fff', containLabel:false});
  xAxes.push({type:'value', gridIndex:i, min:L.xmin, max:L.xmax, splitLine:{show:false}, axisLine:{show:false},
    axisTick:{show:true, customValues:p.xTicks, length:3, lineStyle:{color:'#333',width:0.8}},
    axisLabel:{customValues:p.xTicks, rotate:90, fontSize:7, color:'#4d4d4d', margin:4, fontFamily:FONT, formatter:v=>String(v)}});
  yAxes.push({type:'value', gridIndex:i, min:YMIN, max:YMAX, splitLine:{show:false}, axisLine:{show:false},
    axisTick:{show:true, customValues:yTicks, length:3, lineStyle:{color:'#333',width:0.8}},
    axisLabel:{customValues:yTicks, fontSize:7, color:'#4d4d4d', margin:3, fontFamily:FONT, formatter:v=>v.toFixed(2)}});
  // grid lines
  const step = p.xTicks[1]-p.xTicks[0];
  const xMinor = p.xTicks.map(t=>t+step/2).filter(t=>t<L.xmax);
  const yMinor = [0.125,0.375,0.625,0.875];
  series.push({type:'custom', xAxisIndex:i, yAxisIndex:i, silent:true, z:1, clip:true, data:[[p.xTicks[0],0]],
    renderItem:(params,api)=>{
      const ch=[];
      const add=(x1,y1,x2,y2,w)=>{const a=api.coord([x1,y1]), b=api.coord([x2,y2]);
        ch.push({type:'line', shape:{x1:a[0],y1:a[1],x2:b[0],y2:b[1]}, style:{stroke:'#ebebeb', lineWidth:w}});};
      xMinor.forEach(x=>add(x,YMIN,x,YMAX,0.5));
      yMinor.forEach(y=>add(L.xmin,y,L.xmax,y,0.5));
      p.xTicks.forEach(x=>add(x,YMIN,x,YMAX,1));
      yTicks.forEach(y=>add(L.xmin,y,L.xmax,y,1));
      return {type:'group', children:ch};
    }});
  // bands
  p.fits.forEach((pair,r)=>{
    pair.forEach((vals,s)=>{
      const hw=p.hws[r][s];
      const segs=[]; let cur=[];
      p.ages.forEach((a,k)=>{const v=vals[k], h=hw[k];
        if(v==null||h==null||v-h<0){ if(cur.length) segs.push(cur); cur=[]; }
        else cur.push([a,v-h,v+h]);});
      if(cur.length) segs.push(cur);
      series.push({type:'custom', xAxisIndex:i, yAxisIndex:i, silent:true, z:2, clip:true, data:[[p.ages[0],0]],
        renderItem:(params,api)=>{
          const children=segs.filter(sg=>sg.length>1).map(sg=>{
            const up=sg.map(q=>api.coord([q[0],q[2]]));
            const lo=sg.slice().reverse().map(q=>api.coord([q[0],q[1]]));
            return {type:'polygon', shape:{points:up.concat(lo)}, style:{fill:rgba(colors[r],0.42), stroke:null}};
          });
          return {type:'group', children};
        }});
    });
  });
  // points
  p.pts.forEach((pts,r)=>{
    series.push({type:'scatter', xAxisIndex:i, yAxisIndex:i, z:3, silent:true, data:pts,
      symbolSize:d=>2+7*Math.sqrt(d[2]/legendSamples[0]),
      itemStyle:{color:rgba(colors[r],0.7)}});
  });
  // fitted lines
  p.fits.forEach((pair,r)=>{
    pair.forEach((vals,s)=>{
      const d=[]; p.ages.forEach((a,k)=>{ if(vals[k]!=null) d.push([a,vals[k]]); });
      series.push({type:'line', xAxisIndex:i, yAxisIndex:i, z:4, silent:true, data:d, smooth:0.35, showSymbol:false,
        lineStyle:{color:colors[r], width:1.3, type: s===0?'solid':[4,3]}});
    });
  });
  // texts
  const lx = i%2===0 ? 12 : 563, ty = i<2 ? 0 : 487;
  graphics.push({type:'text', x:lx, y:ty+14, style:{text:panelLetters[i], fontSize:11, fontFamily:FONT, fill:'#000', textVerticalAlign:'middle'}});
  graphics.push({type:'text', x:L.left+1, y:L.top-10, style:{text:panelTitles[i], fontSize:8.7, fontStyle:'italic', fontFamily:FONT, fill:'#000', textVerticalAlign:'middle'}});
  graphics.push({type:'text', x:(i%2===0?22:575), y:L.top+L.height/2, rotation:Math.PI/2,
    style:{text:'Proportion of isolates tested\nthat are resistant', fontSize:8.5, lineHeight:9, fontFamily:FONT, fill:'#000', textAlign:'center', textVerticalAlign:'middle'}});
  graphics.push({type:'text', x:L.left+L.width/2, y:L.top+L.height+21, style:{text:'Age', fontSize:8.7, fontFamily:FONT, fill:'#000', textAlign:'center', textVerticalAlign:'middle'}});
});

// legend
graphics.push({type:'text', x:1117, y:398, style:{text:'Subregion', fontSize:8, fontFamily:FONT, fill:'#000', textVerticalAlign:'middle'}});
subregions.forEach((s,k)=>{
  const y0=406+k*21.5;
  graphics.push({type:'rect', shape:{x:1117,y:y0,width:22,height:21.5}, style:{fill:rgba(colors[k],0.42)}});
  graphics.push({type:'circle', shape:{cx:1128,cy:y0+10.75,r:7.5}, style:{fill:colors[k]}});
  graphics.push({type:'text', x:1143, y:y0+10.75, style:{text:s, fontSize:6.8, fontFamily:FONT, fill:'#000', textVerticalAlign:'middle'}});
});
graphics.push({type:'text', x:1117, y:513, style:{text:'sex', fontSize:8, fontFamily:FONT, fill:'#000', textVerticalAlign:'middle'}});
graphics.push({type:'rect', shape:{x:1117,y:520,width:14,height:27}, style:{fill:'#d9d9d9'}});
graphics.push({type:'line', shape:{x1:1118,y1:527,x2:1130,y2:527}, style:{stroke:'#3366ff', lineWidth:1.2}});
graphics.push({type:'line', shape:{x1:1118,y1:541,x2:1130,y2:541}, style:{stroke:'#3366ff', lineWidth:1.2, lineDash:[3,2]}});
graphics.push({type:'text', x:1135, y:527, style:{text:'f', fontSize:6.8, fontFamily:FONT, fill:'#000', textVerticalAlign:'middle'}});
graphics.push({type:'text', x:1135, y:541, style:{text:'m', fontSize:6.8, fontFamily:FONT, fill:'#000', textVerticalAlign:'middle'}});
graphics.push({type:'text', x:1117, y:568, style:{text:'# samples', fontSize:8, fontFamily:FONT, fill:'#000', textVerticalAlign:'middle'}});
graphics.push({type:'circle', shape:{cx:1123.5,cy:583,r:(2+7)/2}, style:{fill:'#000'}});
graphics.push({type:'text', x:1133, y:583, style:{text:String(legendSamples[0]), fontSize:6.8, fontFamily:FONT, fill:'#000', textVerticalAlign:'middle'}});

const chart = echarts.init(document.getElementById('c'), null, {renderer:'canvas'});
chart.setOption({animation:false, backgroundColor:'#fff', grid:grids, xAxis:xAxes, yAxis:yAxes, series:series, graphic:{elements:graphics}});
</script></body></html>
